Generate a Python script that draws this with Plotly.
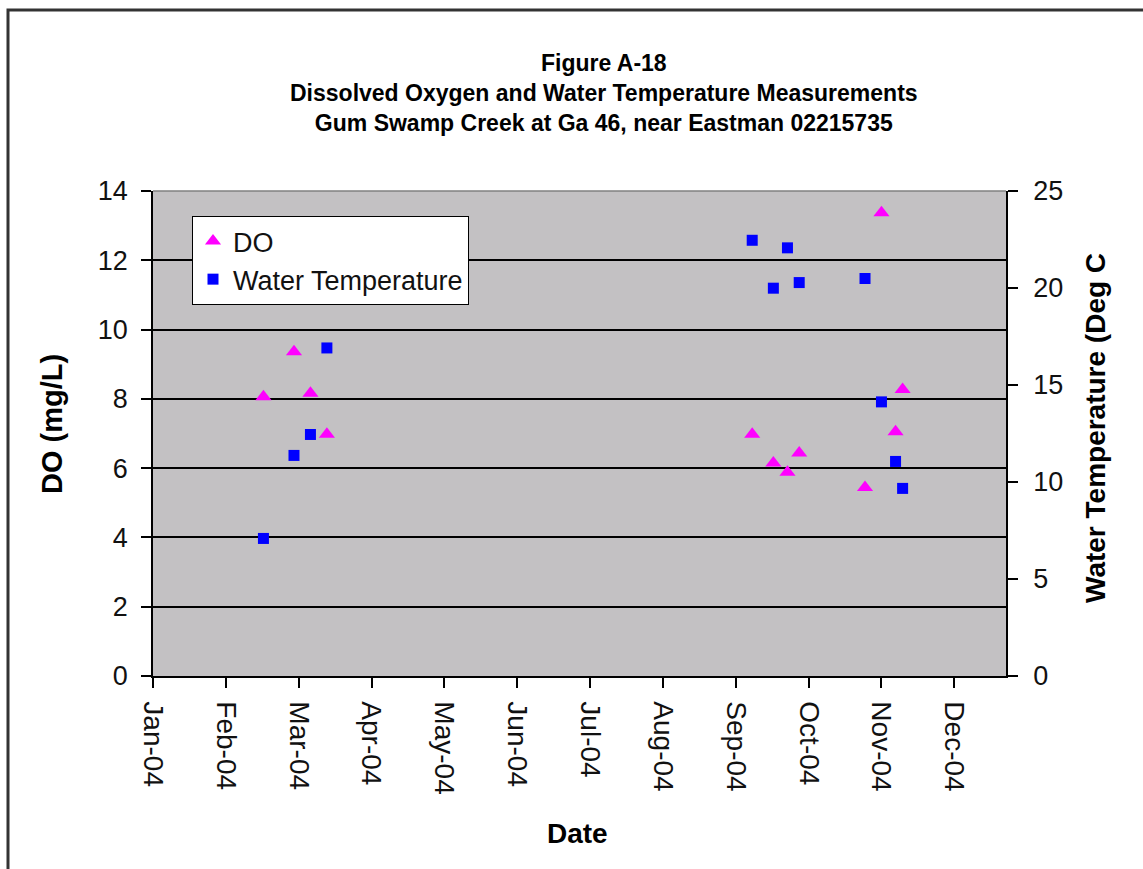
import datetime as dt
import plotly.graph_objects as go

# ---- data ----
dates = ["2004-02-17", "2004-03-01", "2004-03-08", "2004-03-15",
         "2004-09-12", "2004-09-21", "2004-09-27", "2004-10-02",
         "2004-10-30", "2004-11-06", "2004-11-12", "2004-11-15"]
do_vals = [8.06, 9.36, 8.16, 6.98, 6.98, 6.15, 5.88, 6.44, 5.44, 13.37, 7.05, 8.27]
temp_vals = [7.09, 11.37, 12.45, 16.91, 22.46, 19.99, 22.07, 20.28, 20.49, 14.13, 11.06, 9.67]
tick_labels = ["Jan-04", "Feb-04", "Mar-04", "Apr-04", "May-04", "Jun-04",
               "Jul-04", "Aug-04", "Sep-04", "Oct-04", "Nov-04", "Dec-04"]

start = dt.date(2004, 1, 1)
tick_vals = [(start + dt.timedelta(days=31 * i)).isoformat() for i in range(len(tick_labels))]
x_end = (start + dt.timedelta(days=363)).isoformat()

FONT = "Liberation Sans, Arial, sans-serif"

fig = go.Figure()
fig.add_trace(go.Scatter(
    x=dates, y=do_vals, mode="markers", name="DO",
    marker=dict(symbol="triangle-up", size=14, color="#FF00FF", line=dict(width=0)),
))
fig.add_trace(go.Scatter(
    x=dates, y=temp_vals, mode="markers", name="Water Temperature", yaxis="y2",
    marker=dict(symbol="square", size=11, color="#0000FF", line=dict(width=0)),
))

L, R, T, B = 153, 137, 191, 193
W, H = 1143, 869
pw, ph = W - L - R, H - T - B

def px(x):
    return (x - L) / pw

def py(y):
    return (H - B - y) / ph

fig.update_layout(
    width=W, height=H,
    margin=dict(l=L, r=R, t=T, b=B, pad=0),
    paper_bgcolor="white",
    plot_bgcolor="#C3C1C3",
    font=dict(family=FONT, color="black"),
    showlegend=True,
    legend=dict(
        x=px(192), y=py(216), xanchor="left", yanchor="top",
        bgcolor="white", bordercolor="black", borderwidth=1,
        font=dict(size=27, family=FONT, color="#111"),
        itemwidth=30, tracegroupgap=0,
    ),
    xaxis=dict(
        type="date", range=[start.isoformat(), x_end],
        tickmode="array", tickvals=tick_vals, ticktext=tick_labels,
        tickangle=90, ticks="outside", ticklen=10, tickwidth=1.5, tickcolor="black",
        showline=True, linecolor="black", linewidth=1.5,
        showgrid=False, zeroline=False,
        tickfont=dict(size=28, family=FONT, color="#111"),
        ticklabelstandoff=8,
    ),
    yaxis=dict(
        range=[0, 14], dtick=2, tick0=0,
        ticks="outside", ticklen=10, tickwidth=1.5, tickcolor="black",
        showline=True, linecolor="black", linewidth=1.5,
        showgrid=True, gridcolor="black", gridwidth=1.5, zeroline=False,
        tickfont=dict(size=27, family=FONT, color="#111"),
        ticklabelstandoff=8,
    ),
    yaxis2=dict(
        range=[0, 25], dtick=5, tick0=0, overlaying="y", side="right",
        ticks="outside", ticklen=10, tickwidth=1.5, tickcolor="black",
        showline=True, linecolor="black", linewidth=1.5,
        showgrid=False, zeroline=False,
        tickfont=dict(size=27, family=FONT, color="#111"),
        ticklabelstandoff=10,
    ),
    shapes=[
        dict(type="rect", xref="paper", yref="paper",
             x0=px(8), x1=px(1200), y0=py(900), y1=py(10),
             line=dict(color="#333", width=3), layer="below"),
        dict(type="line", xref="paper", yref="paper",
             x0=0, x1=1, y0=1, y1=1, line=dict(color="#808080", width=1.5)),
    ],
    annotations=[
        dict(text="<b>Figure A-18</b><br><b>Dissolved Oxygen and Water Temperature Measurements</b><br><b>Gum Swamp Creek at Ga 46, near Eastman 02215735</b>",
             xref="paper", yref="paper", x=px(604), y=py(93), xanchor="center", yanchor="middle",
             showarrow=False, font=dict(size=23, family=FONT, color="black")),
        dict(text="<b>DO (mg/L)</b>", xref="paper", yref="paper",
             x=px(52), y=py(424), xanchor="center", yanchor="middle", textangle=-90,
             showarrow=False, font=dict(size=29, family=FONT, color="black")),
        dict(text="<b>Water Temperature (Deg C</b>", xref="paper", yref="paper",
             x=px(1095), y=py(428), xanchor="center", yanchor="middle", textangle=-90,
             showarrow=False, font=dict(size=28, family=FONT, color="black")),
        dict(text="<b>Date</b>", xref="paper", yref="paper",
             x=px(577), y=py(833), xanchor="center", yanchor="middle",
             showarrow=False, font=dict(size=28, family=FONT, color="black")),
    ],
)

fig.write_html("out.html")
